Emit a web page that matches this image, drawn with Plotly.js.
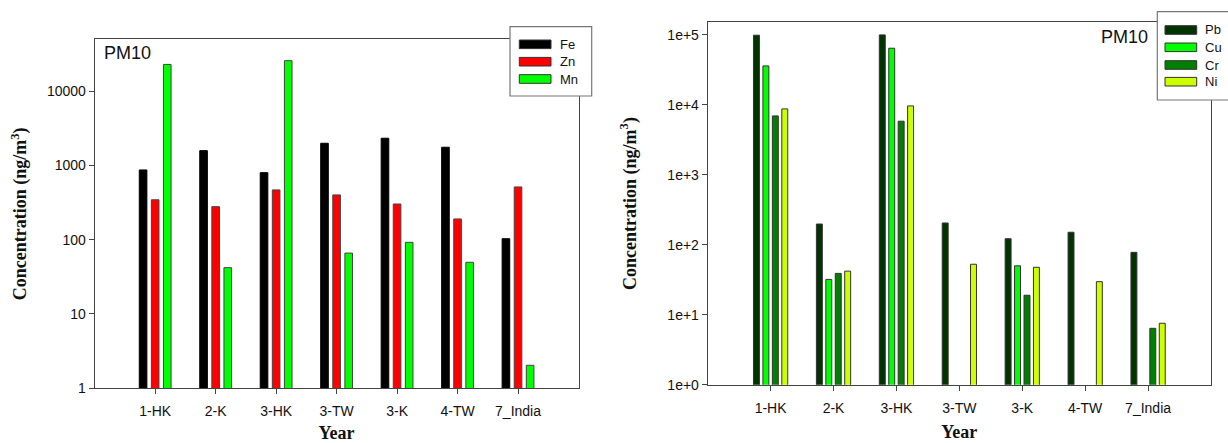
<!DOCTYPE html>
<html>
<head>
<meta charset="utf-8">
<script src="https://cdn.plot.ly/plotly-3.0.1.min.js"></script>
<style>
  html, body { margin: 0; padding: 0; background: #ffffff; }
  #chart { width: 1228px; height: 443px; }
</style>
</head>
<body>
<div id="chart"></div>
<script>
// ---------- data ----------
const sites = ["1-HK", "2-K", "3-HK", "3-TW", "3-K", "4-TW", "7_India"];

// left panel (ng/m3)
const leftNames = ["Fe", "Zn", "Mn"];
const fe = [867, 1577, 798, 1983, 2316, 1753, 103];
const zn = [344, 278, 467, 400, 302, 190, 512];
const mn = [22800, 42, 25600, 66, 92, 49.6, 2.04];
const leftColors = ["#000000", "#ff0000", "#00ff00"];
const leftTickVals = [1, 10, 100, 1000, 10000];
const leftTickText = ["1", "10", "100", "1000", "10000"];

// right panel (ng/m3)
const rightNames = ["Pb", "Cu", "Cr", "Ni"];
const pb = [99000, 198, 100000, 205, 122, 151, 78];
const cu = [36000, 32, 64500, null, 50, null, null];
const cr = [6950, 39, 5840, null, 19, null, 6.4];
const ni = [8750, 42, 9660, 52.7, 47.7, 29.7, 7.55];
const rightColors = ["#003300", "#00ff00", "#007f00", "#ccff00"];
const rightTickVals = [1, 10, 100, 1000, 10000, 100000];
const rightTickText = ["1e+0", "1e+1", "1e+2", "1e+3", "1e+4", "1e+5"];

const panelLabel = "PM10";
const xTitle = "Year";
const yTitle = "Concentration (ng/m<sup>3</sup>)";

// ---------- helpers (page px -> paper) ----------
const W = 1228, H = 443;
const px = v => v / W;
const py = v => 1 - v / H;

const leftSeries = [fe, zn, mn];
const rightSeries = [pb, cu, cr, ni];

const traces = [];
leftSeries.forEach((vals, i) => {
  traces.push({
    type: "bar", x: sites, y: vals, name: leftNames[i],
    xaxis: "x", yaxis: "y",
    marker: { color: leftColors[i], line: { color: i === 0 ? "#000000" : "#444444", width: 1 } },
    showlegend: false, hoverinfo: "x+y+name"
  });
});
rightSeries.forEach((vals, i) => {
  traces.push({
    type: "bar", x: sites, y: vals, name: rightNames[i],
    xaxis: "x2", yaxis: "y2",
    marker: { color: rightColors[i], line: { color: "#333333", width: 1 } },
    showlegend: false, hoverinfo: "x+y+name"
  });
});

const tickFont = { family: "Liberation Sans, Arial, sans-serif", size: 14, color: "#111111" };
const titleFont = { family: "Liberation Serif, Times New Roman, serif", size: 18, color: "#111111", weight: "bold" };
const lineColor = "#444444";

function xAxis(domain, anchor) {
  return {
    domain: domain, anchor: anchor, type: "category",
    categoryorder: "array", categoryarray: sites,
    range: [-1, 7],
    showline: true, linecolor: lineColor, linewidth: 1, mirror: true,
    ticks: "outside", ticklen: 5, tickcolor: lineColor, tickwidth: 1,
    showgrid: false, zeroline: false,
    tickfont: tickFont, ticklabelstandoff: 5,
    title: { text: xTitle, font: titleFont, standoff: 10 },
    fixedrange: true
  };
}
function yAxis(domain, anchor, range, tv, tt, standoff) {
  return {
    domain: domain, anchor: anchor, type: "log", range: range,
    tickvals: tv, ticktext: tt,
    showline: true, linecolor: lineColor, linewidth: 1, mirror: true,
    ticks: "outside", ticklen: 5, tickcolor: lineColor, tickwidth: 1,
    showgrid: false, zeroline: false,
    tickfont: tickFont,
    title: { text: yTitle, font: titleFont, standoff: standoff },
    fixedrange: true
  };
}

const shapes = [];
const annotations = [];

function legendBox(x0, y0, x1, y1, names, colors, swX0, swX1, rowYs, textX) {
  shapes.push({ type: "rect", xref: "paper", yref: "paper", layer: "above",
    x0: px(x0), x1: px(x1), y0: py(y1), y1: py(y0),
    fillcolor: "#ffffff", line: { color: "#777777", width: 1.2 } });
  names.forEach((n, i) => {
    shapes.push({ type: "rect", xref: "paper", yref: "paper", layer: "above",
      x0: px(swX0), x1: px(swX1), y0: py(rowYs[i] + 4.3), y1: py(rowYs[i] - 4.3),
      fillcolor: colors[i], line: { color: "#333333", width: 1 } });
    annotations.push({ xref: "paper", yref: "paper", x: px(textX), y: py(rowYs[i]),
      xanchor: "left", yanchor: "middle", showarrow: false, text: n,
      font: { family: "Liberation Sans, Arial, sans-serif", size: 13, color: "#111111" } });
  });
}

legendBox(510, 26.7, 591.7, 96, leftNames, leftColors, 519.3, 551, [44.3, 61.7, 79], 558);
legendBox(1157.3, 11.7, 1240, 100, rightNames, rightColors, 1165, 1196.7, [30, 47.3, 65, 81.7], 1203);

annotations.push({ xref: "paper", yref: "paper", x: px(102), y: py(53), xanchor: "left", yanchor: "middle",
  showarrow: false, text: panelLabel, font: { family: "Liberation Sans, Arial, sans-serif", size: 18, color: "#111111" } });
annotations.push({ xref: "paper", yref: "paper", x: px(1150), y: py(37.5), xanchor: "right", yanchor: "middle",
  showarrow: false, text: panelLabel, font: { family: "Liberation Sans, Arial, sans-serif", size: 18, color: "#111111" } });

const layout = {
  width: W, height: H,
  margin: { l: 0, r: 0, t: 0, b: 0, pad: 0 },
  paper_bgcolor: "#ffffff", plot_bgcolor: "#ffffff",
  barmode: "group", bargap: 0.4, bargroupgap: 0.37,
  showlegend: false,
  xaxis: xAxis([px(94.7), px(578.5)], "y"),
  yaxis: yAxis([py(388.3), py(39.3)], "x", [0, 4.696], leftTickVals, leftTickText, 15),
  xaxis2: xAxis([px(707.7), px(1211)], "y2"),
  yaxis2: yAxis([py(384.7), py(22.3)], "x2", [0, 5.18], rightTickVals, rightTickText, 26),
  shapes: shapes,
  annotations: annotations
};

Plotly.newPlot("chart", traces, layout, { staticPlot: true, displayModeBar: false });
</script>
</body>
</html>
